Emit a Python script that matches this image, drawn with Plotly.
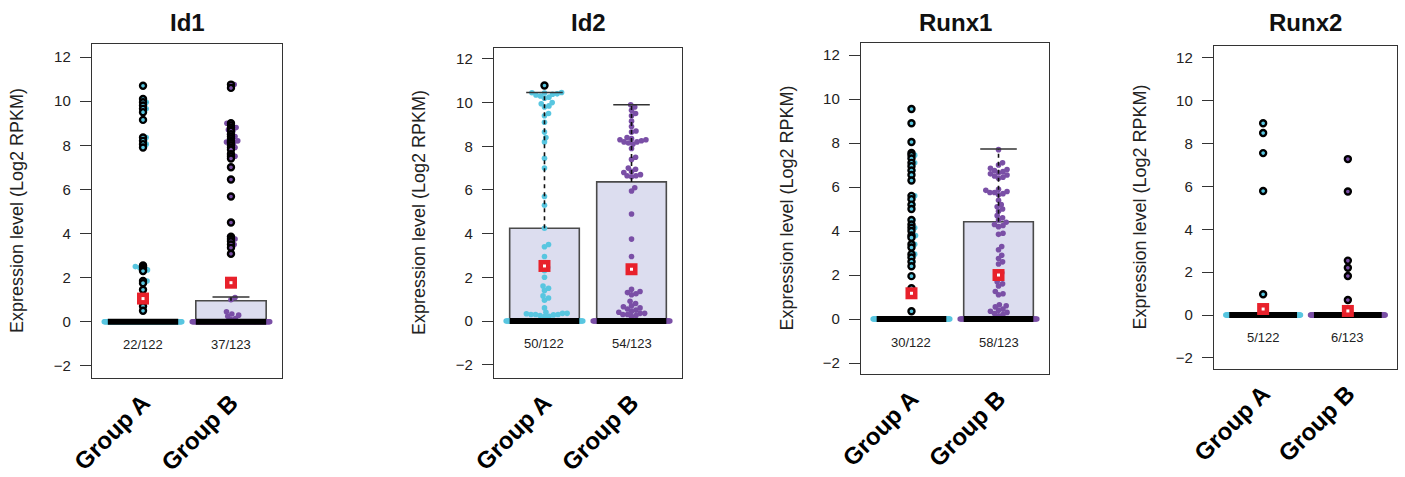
import math
import plotly.graph_objects as go

# ---------------- data ----------------
genes = ["Id1", "Id2", "Runx1", "Runx2"]
groups = ["Group A", "Group B"]
n_total = [122, 123]

# non-zero expression values per gene / group (Log2 RPKM)
id1_a = [10.7, 10.1, 9.95, 9.8, 9.65, 9.5, 9.15, 8.35, 8.2, 8.05, 7.9,
         2.55, 2.5, 2.45, 2.35, 2.3, 1.85, 1.75, 1.45, 0.95, 0.7, 0.5]
id1_b = [10.75, 10.6, 9.0, 8.9, 8.8, 8.7, 8.65, 8.5, 8.4, 8.3, 8.2, 8.15, 8.1,
         8.0, 7.9, 7.8, 7.6, 7.5, 7.4, 7.0, 6.45, 5.68, 4.5, 3.85, 3.75, 3.65,
         3.5, 3.35, 3.08, 1.1, 1.0, 0.45, 0.35, 0.3, 0.25, 0.15, 0.1]
id2_a = [10.78, 10.46, 10.45, 10.44, 10.4, 10.38, 10.35, 10.3, 10.25, 10.2,
         10.0, 9.95, 9.85, 9.8, 9.5, 9.4, 9.1, 8.65, 8.4, 8.2, 7.45, 7.0, 5.7,
         5.3, 4.25, 3.5, 3.4, 2.95, 2.6, 2.45, 2.3, 2.0, 1.6, 1.5, 1.4, 1.15,
         1.05, 0.95, 0.6, 0.4, 0.35, 0.35, 0.33, 0.3, 0.3, 0.3, 0.28, 0.25,
         0.22, 0.2]
id2_b = [9.9, 9.8, 9.65, 9.5, 9.4, 9.15, 8.9, 8.7, 8.65, 8.4, 8.35, 8.3, 8.3,
         8.25, 8.2, 8.2, 8.15, 8.1, 7.9, 7.5, 7.4, 7.0, 6.95, 6.85, 6.8, 6.7,
         6.65, 6.65, 6.6, 6.1, 5.95, 4.9, 3.75, 2.95, 1.45, 1.35, 1.3, 1.25,
         1.2, 0.9, 0.8, 0.7, 0.65, 0.6, 0.55, 0.5, 0.45, 0.4, 0.35, 0.35, 0.3,
         0.3, 0.25, 0.2]
runx1_a = [9.55, 8.9, 8.05, 7.55, 7.45, 7.3, 7.1, 6.95, 6.75, 6.55, 6.3, 5.6,
           5.45, 5.2, 5.0, 4.5, 4.3, 4.15, 4.0, 3.8, 3.7, 3.4, 3.25, 2.95, 2.8,
           2.6, 2.4, 1.95, 1.4, 0.35]
runx1_b = [7.7, 7.1, 7.0, 6.85, 6.8, 6.75, 6.7, 6.65, 6.6, 6.55, 6.5, 6.45,
           6.4, 5.9, 5.85, 5.8, 5.75, 5.75, 5.7, 5.65, 5.4, 5.2, 5.1, 5.0, 4.9,
           4.7, 4.6, 4.5, 4.4, 4.3, 4.25, 4.2, 3.9, 3.85, 3.3, 3.15, 2.9, 2.75,
           2.6, 2.5, 2.1, 1.95, 1.7, 1.6, 1.5, 1.25, 1.15, 1.1, 0.65, 0.6, 0.55,
           0.45, 0.4, 0.35, 0.3, 0.25, 0.2, 0.15]
runx2_a = [8.95, 8.5, 7.56, 5.79, 0.97]
runx2_b = [7.28, 5.77, 2.54, 2.21, 1.82, 0.7]

nonzero = {"Id1": [id1_a, id1_b], "Id2": [id2_a, id2_b],
           "Runx1": [runx1_a, runx1_b], "Runx2": [runx2_a, runx2_b]}

# box statistics
median_val = {"Id1": [0, 0], "Id2": [0, 0], "Runx1": [0, 0], "Runx2": [0, 0]}
q3_val = {"Id1": [0, 0.95], "Id2": [4.25, 6.37], "Runx1": [0, 4.42], "Runx2": [0, 0]}
whisker_hi = {"Id1": [0, 1.12], "Id2": [10.46, 9.9], "Runx1": [0, 7.73], "Runx2": [0, 0]}
mean_val = {"Id1": [1.05, 1.77], "Id2": [2.52, 2.37], "Runx1": [1.17, 2.0], "Runx2": [0.28, 0.19]}

y_ticks = [-2, 0, 2, 4, 6, 8, 10, 12]
y_title = "Expression level (Log2 RPKM)"

# ---------------- styling / layout ----------------
W, H = 1405, 477
FONT = "Liberation Sans, Arial, Helvetica, sans-serif"
point_colors = ["#58C6E0", "#7A4FA6"]
box_fill = "#DCDDEF"
box_line = "#4a4a4a"
red = "#E8212B"

panel_px = [(92, 282, 44, 378), (494, 682, 48, 378), (861, 1049, 43, 374), (1214, 1397, 46, 369)]
y_ranges = [(-2.55, 12.59), (-2.61, 12.5), (-2.5, 12.55), (-2.52, 12.56)]
x_range = (0.42, 2.58)
half_box = 0.4
half_cap = 0.21
dot_size = 5.6   # px, drawn
dot_sep = 4.6    # px, swarm spacing


def swarm_offsets(vals, xscale, yscale, limit):
    """Beeswarm horizontal offsets (data units) for the non-zero values."""
    order = sorted(range(len(vals)), key=lambda i: vals[i])
    placed = []
    xs = [0.0] * len(vals)
    d = dot_sep
    for i in order:
        y = vals[i] * yscale
        cands = [0.0]
        for px, py in placed:
            dy = abs(py - y)
            if dy < d:
                dx = math.sqrt(d * d - dy * dy)
                cands += [px + dx, px - dx]
        cands.sort(key=abs)
        chosen = cands[-1]
        for c in cands:
            if all((c - px) ** 2 + (y - py) ** 2 >= d * d - 1e-6 for px, py in placed):
                chosen = c
                break
        placed.append((chosen, y))
        xs[i] = max(-limit, min(limit, chosen / xscale))
    return xs


fig = go.Figure()
annotations = []
layout_axes = {}

for k, gene in enumerate(genes):
    x0, x1, ytop, ybot = panel_px[k]
    sfx = "" if k == 0 else str(k + 1)
    xa, ya = "x" + sfx, "y" + sfx
    yr = y_ranges[k]
    xscale = (x1 - x0) / (x_range[1] - x_range[0])
    yscale = (ybot - ytop) / (yr[1] - yr[0])

    for g in range(2):
        cx = g + 1
        vals = nonzero[gene][g]
        n_zero = n_total[g] - len(vals)
        col = point_colors[g]
        q3 = q3_val[gene][g]
        med = median_val[gene][g]
        wh = whisker_hi[gene][g]

        # box
        if q3 > med:
            fig.add_trace(go.Scatter(
                x=[cx - half_box, cx + half_box, cx + half_box, cx - half_box, cx - half_box],
                y=[med, med, q3, q3, med], mode="lines", fill="toself",
                fillcolor=box_fill, line=dict(color=box_line, width=1.6),
                xaxis=xa, yaxis=ya, hoverinfo="skip", showlegend=False))

        # swarm points
        offs = swarm_offsets(vals, xscale, yscale, 0.45)
        zx = [(-0.44 + 0.88 * i / max(n_zero - 1, 1)) for i in range(n_zero)]
        fig.add_trace(go.Scatter(
            x=[cx + o for o in offs] + [cx + o for o in zx],
            y=vals + [0] * n_zero, mode="markers",
            marker=dict(color=col, size=dot_size, line=dict(width=0)),
            xaxis=xa, yaxis=ya, hoverinfo="skip", showlegend=False))

        # whisker
        if wh > q3:
            fig.add_trace(go.Scatter(
                x=[cx, cx], y=[q3, wh], mode="lines",
                line=dict(color="#111", width=1.6, dash="4px,4px"),
                xaxis=xa, yaxis=ya, hoverinfo="skip", showlegend=False))
            fig.add_trace(go.Scatter(
                x=[cx - half_cap, cx + half_cap], y=[wh, wh], mode="lines",
                line=dict(color="#333", width=1.6),
                xaxis=xa, yaxis=ya, hoverinfo="skip", showlegend=False))

        # median bar
        fig.add_trace(go.Scatter(
            x=[cx - half_box, cx + half_box], y=[med, med], mode="lines",
            line=dict(color="black", width=6),
            xaxis=xa, yaxis=ya, hoverinfo="skip", showlegend=False))

        # outliers (above upper whisker)
        outs = [v for v in vals if v > wh + 1e-9]
        if outs:
            fig.add_trace(go.Scatter(
                x=[cx] * len(outs), y=outs, mode="markers",
                marker=dict(color=col, size=6, line=dict(color="black", width=2.4)),
                xaxis=xa, yaxis=ya, hoverinfo="skip", showlegend=False))

        # mean
        m = mean_val[gene][g]
        fig.add_trace(go.Scatter(
            x=[cx], y=[m], mode="markers",
            marker=dict(symbol="square", color=red, size=12, line=dict(width=0)),
            xaxis=xa, yaxis=ya, hoverinfo="skip", showlegend=False))
        fig.add_trace(go.Scatter(
            x=[cx], y=[m], mode="markers",
            marker=dict(symbol="square", color="white", size=3, line=dict(width=0)),
            xaxis=xa, yaxis=ya, hoverinfo="skip", showlegend=False))

        # count label
        annotations.append(dict(
            x=cx, y=-1.05, xref=xa, yref=ya, text=f"{len(vals)}/{n_total[g]}",
            showarrow=False, font=dict(family=FONT, size=13, color="#222"),
            xanchor="center", yanchor="middle"))

    layout_axes["xaxis" + sfx] = dict(
        domain=[x0 / W, x1 / W], range=list(x_range), anchor=ya, automargin=False,
        showline=True, mirror=True, linecolor="#333", linewidth=1.4,
        ticks="", tickvals=[1, 2], ticktext=groups, tickangle=-45,
        tickfont=dict(family=FONT, size=24, color="black", weight="bold"),
        showgrid=False, zeroline=False, fixedrange=True)
    layout_axes["yaxis" + sfx] = dict(
        domain=[1 - ybot / H, 1 - ytop / H], range=list(yr), anchor=xa, automargin=False,
        showline=True, mirror=True, linecolor="#333", linewidth=1.4,
        ticks="outside", ticklen=11, tickwidth=1.3, tickcolor="#333",
        tickvals=y_ticks, ticklabelstandoff=6,
        tickfont=dict(family=FONT, size=15, color="#222"),
        showgrid=False, zeroline=False, fixedrange=True)

    annotations.append(dict(
        x=(x0 + x1) / 2 / W, y=1 - 22 / H, xref="paper", yref="paper",
        text=gene, showarrow=False, xanchor="center", yanchor="middle",
        font=dict(family=FONT, size=24, color="#111", weight="bold")))
    annotations.append(dict(
        x=(x0 - 75) / W, y=1 - (ytop + ybot) / 2 / H, xref="paper", yref="paper",
        text=y_title, showarrow=False, textangle=-90, xanchor="center", yanchor="middle",
        font=dict(family=FONT, size=18, color="#222")))

fig.update_layout(
    template="none",
    width=W, height=H, margin=dict(l=0, r=0, t=0, b=0, pad=0, autoexpand=False),
    font=dict(family=FONT),
    paper_bgcolor="white", plot_bgcolor="white",
    showlegend=False, annotations=annotations, **layout_axes)

fig.write_html("out.html", config={"displayModeBar": False},
               post_script="document.body.style.margin='0';document.body.style.overflow='hidden';")
